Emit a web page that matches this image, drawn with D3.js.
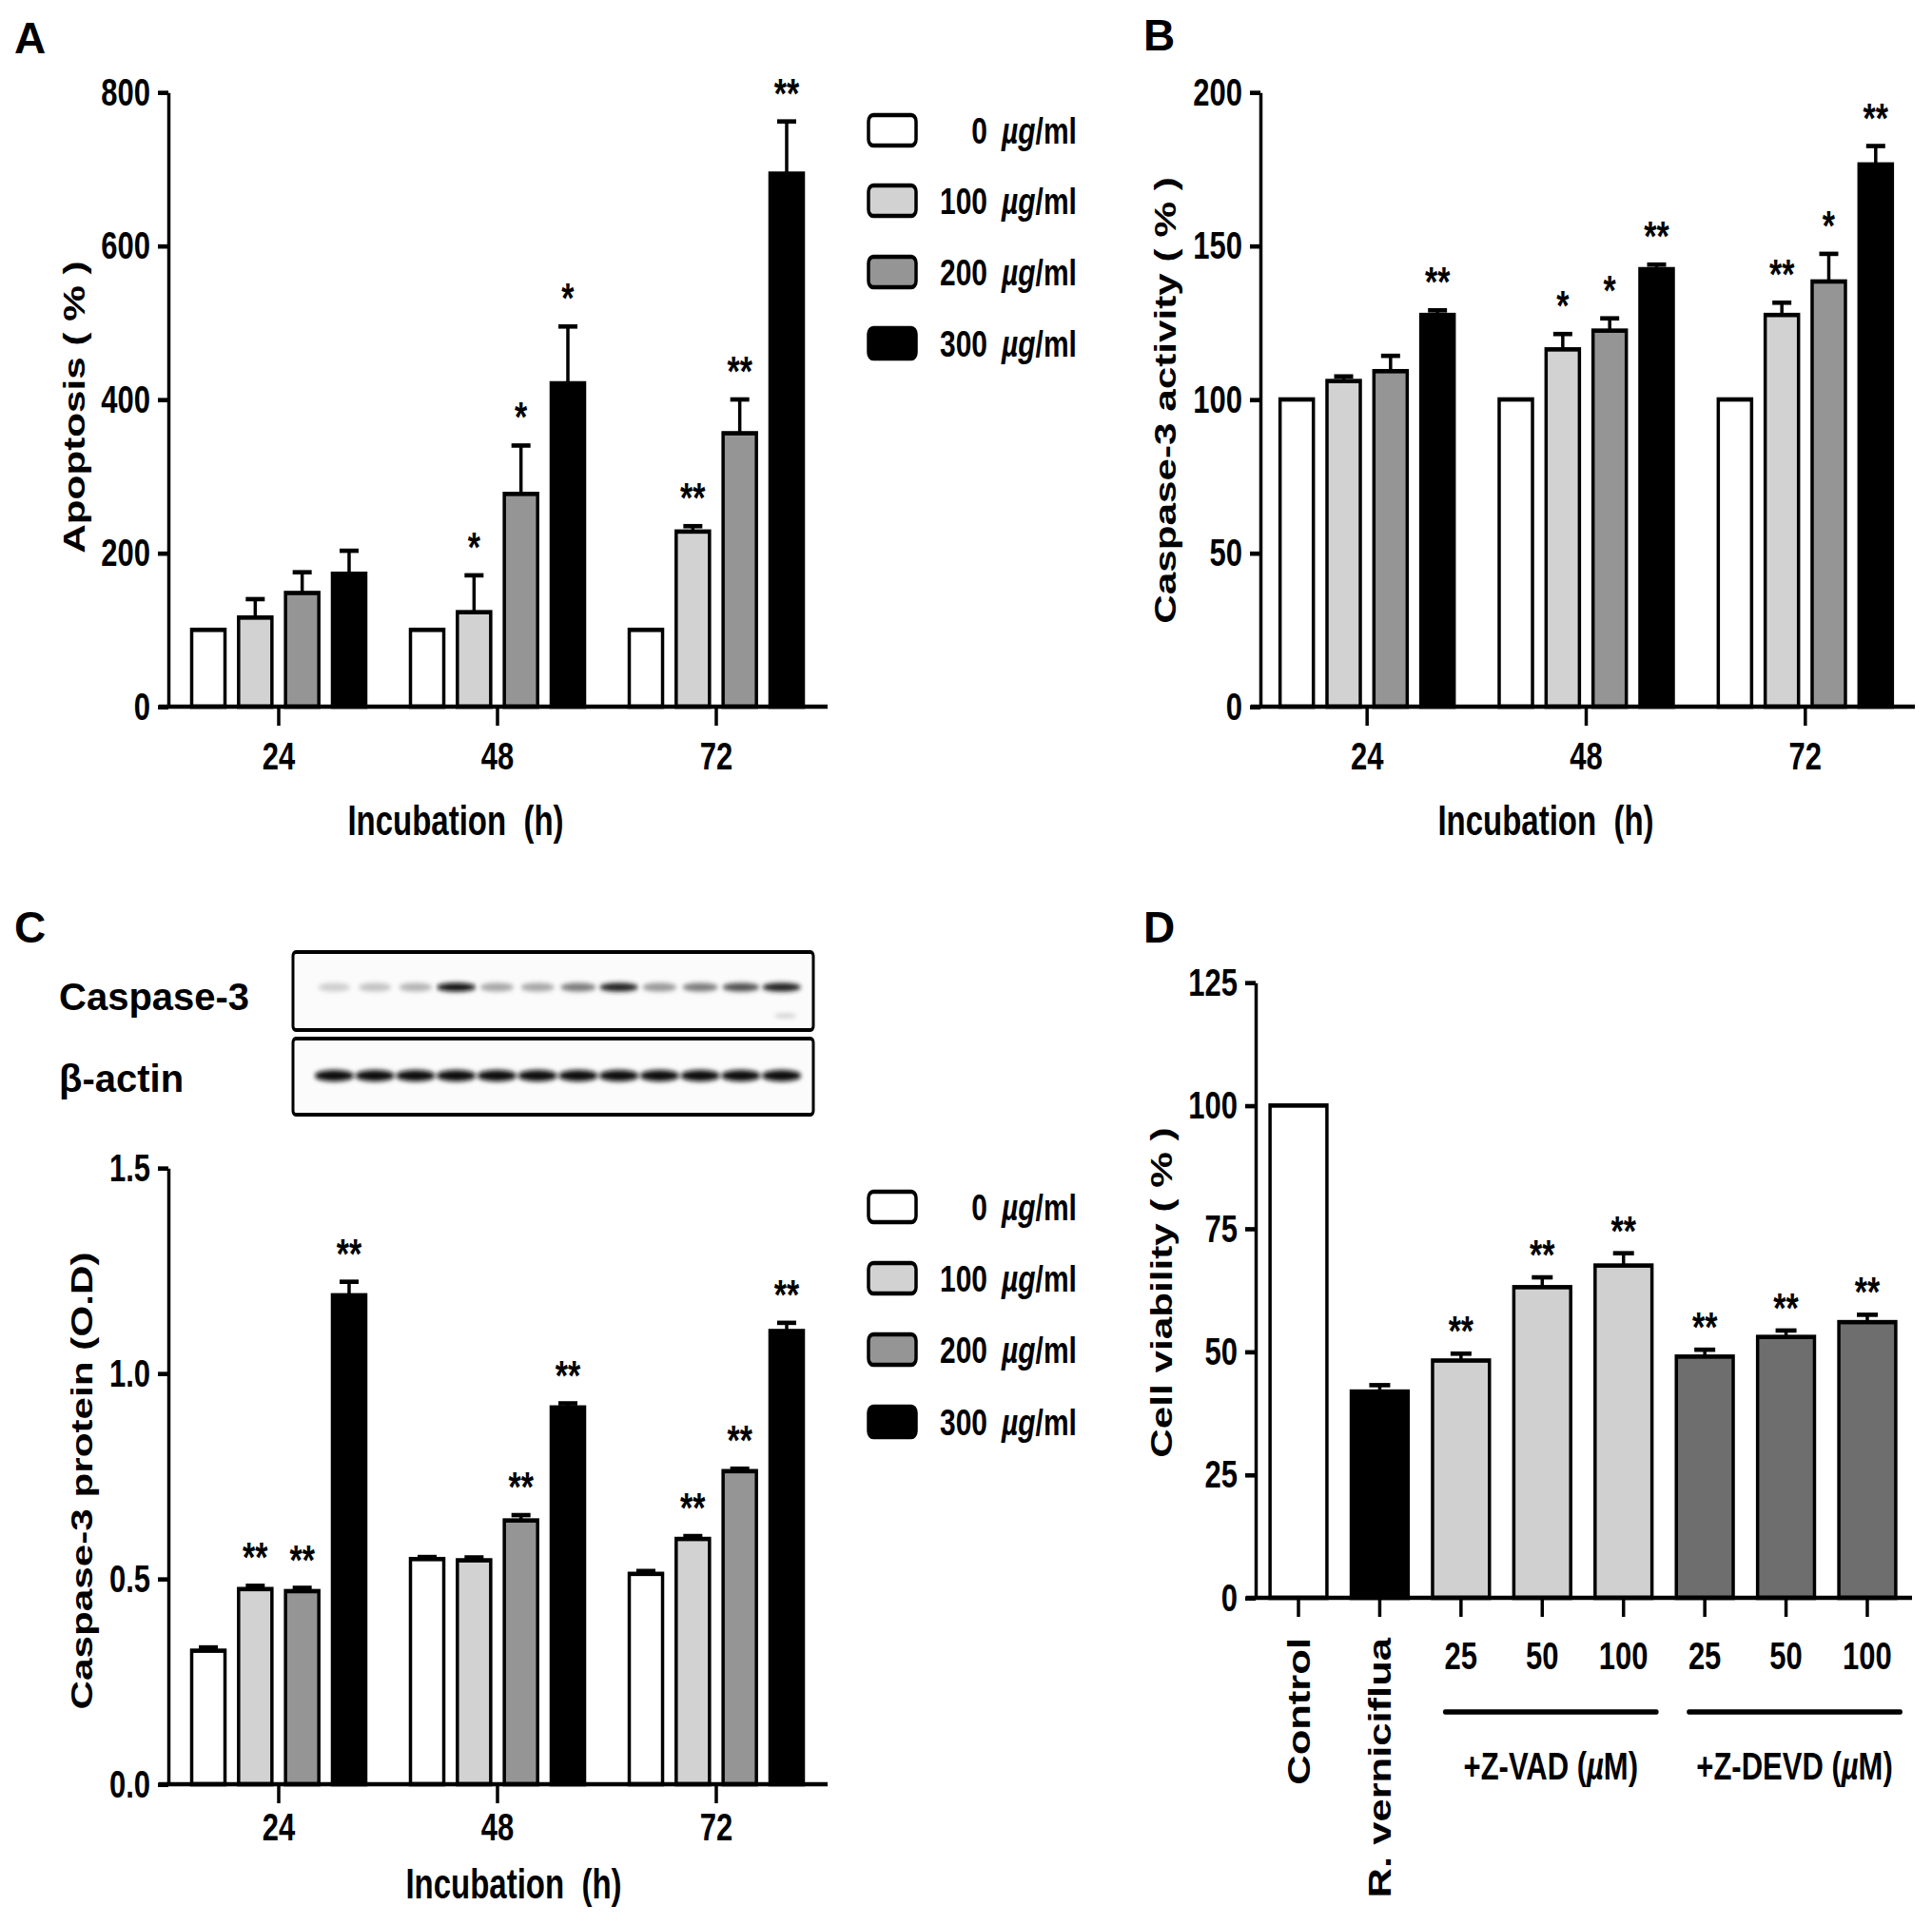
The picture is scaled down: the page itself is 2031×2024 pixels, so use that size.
<!DOCTYPE html>
<html>
<head>
<meta charset="utf-8">
<script src="https://cdn.jsdelivr.net/npm/d3@7"></script>
<style>
  html, body { margin: 0; padding: 0; background: #fff; }
  svg text { font-family: "Liberation Sans", Arial, Helvetica, sans-serif; font-weight: bold; fill: #000; }
</style>
</head>
<body>
<svg id="fig" width="2031" height="2024"></svg>
<script>
// ---- data ----
const hours = ["24", "48", "72"];
const doses = ["0", "100", "200", "300"];
const doseColors = ["#ffffff", "#d2d2d2", "#959595", "#000000"];

// rows = dose, columns = hour
const apoptosisMean = [[100, 100, 100], [116, 123, 228], [148, 277, 356], [173, 421, 694]];
const apoptosisSem = [[0, 0, 0], [24, 48, 7], [27, 63, 44], [30, 74, 68]];
const apoptosisSig = [["", "", ""], ["", "*", "**"], ["", "*", "**"], ["", "*", "**"]];

const caspActMean = [[100, 100, 100], [106, 116.3, 127.5], [109.2, 122.4, 138.4], [127.5, 142.4, 176.5]];
const caspActSem = [[0, 0, 0], [1.5, 5, 4], [5, 4, 9], [1.5, 1.5, 6]];
const caspActSig = [["", "", ""], ["", "*", "**"], ["", "*", "*"], ["**", "**", "**"]];

const caspProtMean = [[0.325, 0.548, 0.512], [0.475, 0.545, 0.597], [0.47, 0.642, 0.762], [1.19, 0.917, 1.103]];
const caspProtSem = [[0.008, 0.005, 0.007], [0.008, 0.007, 0.007], [0.008, 0.013, 0.006], [0.033, 0.01, 0.02]];
const caspProtSig = [["", "", ""], ["**", "", "**"], ["**", "**", "**"], ["**", "**", "**"]];

const blotCasp3 = [0.3, 0.35, 0.4, 0.95, 0.45, 0.45, 0.6, 0.9, 0.5, 0.6, 0.75, 0.9];
const blotActin = [0.95, 0.95, 0.95, 0.95, 0.95, 0.95, 0.95, 0.97, 0.95, 0.95, 0.95, 0.95];

const viabIds = ["ctl", "rv", "vad25", "vad50", "vad100", "devd25", "devd50", "devd100"];
const viabLabels = ["Control", "R. verniciflua", "25", "50", "100", "25", "50", "100"];
const viabMean = [100, 41.9, 48.2, 63.1, 67.5, 49.0, 53.0, 56.0];
const viabSem = [0, 1.3, 1.4, 2.0, 2.5, 1.4, 1.3, 1.5];
const viabSig = ["", "", "**", "**", "**", "**", "**", "**"];
const viabColors = ["#ffffff", "#000000", "#d0d0d0", "#d0d0d0", "#d0d0d0", "#6e6e6e", "#6e6e6e", "#6e6e6e"];
const inhibitors = [{ name: "+Z-VAD (", ids: ["vad25", "vad100"] }, { name: "+Z-DEVD (", ids: ["devd25", "devd100"] }];

// ---- layout ----
// the original figure is stretched vertically; draw in a squeezed space and scale it back
const SY = 1.32;
const sy = (v) => v / SY;

const svg = d3.select("#fig");
const flat = svg.append("g");
const plot = svg.append("g").attr("transform", `scale(1,${SY})`);

const AXIS_W = 3.5;

function groupedPanel(p) {
  const y = d3.scaleLinear().domain([0, p.max]).range([sy(p.zeroY), sy(p.topY)]);
  const x0 = d3.scaleBand().domain(hours).range(p.groupRange);
  const x1 = d3.scaleBand().domain(doses).range([-91.5, 91.5]).paddingInner(0.29);
  const g = plot.append("g");

  const rows = [];
  doses.forEach((d, i) => hours.forEach((h, j) => {
    rows.push({ dose: d, hour: h, i, mean: p.mean[i][j], sem: p.sem[i][j], sig: p.sig[i][j] });
  }));
  const cx = (d) => x0(d.hour) + x0.bandwidth() / 2 + x1(d.dose) + x1.bandwidth() / 2;

  g.append("g").selectAll("rect").data(rows).join("rect")
    .attr("x", (d) => cx(d) - x1.bandwidth() / 2)
    .attr("width", x1.bandwidth())
    .attr("y", (d) => y(d.mean))
    .attr("height", (d) => y(0) - y(d.mean))
    .attr("fill", (d) => doseColors[d.i])
    .attr("stroke", "#000")
    .attr("stroke-width", 3.5);

  const err = g.append("g").attr("stroke", "#000").attr("stroke-width", 3.5)
    .selectAll("g").data(rows.filter((d) => d.sem > 0)).join("g");
  err.append("line")
    .attr("x1", cx).attr("x2", cx)
    .attr("y1", (d) => y(d.mean)).attr("y2", (d) => y(d.mean + d.sem));
  err.append("line")
    .attr("x1", (d) => cx(d) - 10).attr("x2", (d) => cx(d) + 10)
    .attr("y1", (d) => y(d.mean + d.sem)).attr("y2", (d) => y(d.mean + d.sem));

  g.append("g").selectAll("text").data(rows.filter((d) => d.sig)).join("text")
    .attr("x", cx)
    .attr("y", (d) => y(d.mean + d.sem) - sy(14))
    .attr("text-anchor", "middle")
    .attr("font-size", 34)
    .text((d) => d.sig);

  // axes
  const ya = g.append("g").attr("transform", `translate(${p.axisX},0)`)
    .call(d3.axisLeft(y).tickValues(p.ticks).tickFormat(p.fmt).tickSize(11).tickPadding(8).tickSizeOuter(0));
  ya.attr("font-size", 31);
  ya.selectAll("path, line").attr("stroke-width", AXIS_W);

  const xa = g.append("g").attr("transform", `translate(0,${y(0)})`)
    .call(d3.axisBottom(x0).tickSize(sy(20)).tickSizeOuter(0));
  xa.select(".domain").remove();
  xa.attr("font-size", 31);
  xa.selectAll("line").attr("stroke-width", AXIS_W);
  xa.selectAll("text").attr("y", sy(p.tickLabelY) - y(0)).attr("dy", "0.35em");
  g.append("line")
    .attr("x1", p.axisX - 10).attr("x2", p.xEnd)
    .attr("y1", y(0)).attr("y2", y(0))
    .attr("stroke", "#000").attr("stroke-width", AXIS_W);

  g.append("text")
    .attr("transform", `translate(${p.yLabelX},${sy(p.yLabelY)}) rotate(-90)`)
    .attr("text-anchor", "middle").attr("dy", "0.35em")
    .attr("font-size", 32)
    .text(p.yLabel);

  g.append("text")
    .attr("x", p.xTitleX).attr("y", sy(p.xTitleY)).attr("dy", "0.35em")
    .attr("text-anchor", "middle").attr("font-size", 33)
    .style("white-space", "pre")
    .text("Incubation  (h)");
}

function legend(rowYs) {
  const g = plot.append("g");
  const items = g.selectAll("g").data(doses).join("g")
    .attr("transform", (d, i) => `translate(0,${sy(rowYs[i])})`);
  items.append("rect")
    .attr("x", 913).attr("y", sy(-16)).attr("width", 50).attr("height", sy(32))
    .attr("rx", 5)
    .attr("fill", (d, i) => doseColors[i])
    .attr("stroke", "#000").attr("stroke-width", 3.5);
  items.append("text")
    .attr("x", 1038).attr("dy", "0.35em").attr("text-anchor", "end")
    .attr("font-size", 30).text((d) => d);
  const unit = items.append("text")
    .attr("x", 1053).attr("dy", "0.35em").attr("font-size", 30);
  unit.append("tspan").attr("font-style", "italic").text("\u00b5g");
  unit.append("tspan").text("/ml");
}

// ---- panel letters ----
flat.selectAll("text.panel").data([["A", 15, 56], ["B", 1202, 53], ["C", 15, 991], ["D", 1202, 991]])
  .join("text").attr("class", "panel")
  .attr("x", (d) => d[1]).attr("y", (d) => d[2])
  .attr("font-size", 46).text((d) => d[0]);

// ---- A ----
groupedPanel({
  max: 800, zeroY: 743, topY: 97, groupRange: [178, 868], axisX: 177, xEnd: 870,
  ticks: [0, 200, 400, 600, 800], fmt: d3.format("d"),
  mean: apoptosisMean, sem: apoptosisSem, sig: apoptosisSig,
  tickLabelY: 795, yLabel: "Apoptosis ( % )", yLabelX: 78, yLabelY: 428,
  xTitleX: 479, xTitleY: 863
});
legend([137, 211, 286, 361]);

// ---- B ----
groupedPanel({
  max: 200, zeroY: 743, topY: 97, groupRange: [1322, 2013], axisX: 1325, xEnd: 2013,
  ticks: [0, 50, 100, 150, 200], fmt: d3.format("d"),
  mean: caspActMean, sem: caspActSem, sig: caspActSig,
  tickLabelY: 795, yLabel: "Caspase-3 activity ( % )", yLabelX: 1225, yLabelY: 421,
  xTitleX: 1625, xTitleY: 863
});

// ---- C: blot ----
const lanes = d3.scaleBand().domain(d3.range(12)).range([330, 843]);
const defs = svg.append("defs");
defs.append("filter").attr("id", "blur").attr("x", "-50%").attr("y", "-100%").attr("width", "200%").attr("height", "300%")
  .append("feGaussianBlur").attr("stdDeviation", 2.2);

const blot = plot.append("g");
[[1001, 1083, blotCasp3, 1038, 4.5], [1092, 1172, blotActin, 1131, 6]].forEach(([top, bottom, bands, bandY, ry]) => {
  blot.append("rect")
    .attr("x", 308).attr("y", sy(top)).attr("width", 547).attr("height", sy(bottom - top))
    .attr("rx", 3).attr("fill", "#fbfbfb").attr("stroke", "#000").attr("stroke-width", 3);
  blot.append("g").attr("filter", "url(#blur)")
    .selectAll("ellipse").data(bands).join("ellipse")
    .attr("cx", (d, i) => lanes(i) + lanes.bandwidth() / 2)
    .attr("cy", sy(bandY))
    .attr("rx", (d) => 15 + 6 * d)
    .attr("ry", sy(ry))
    .attr("fill", (d) => d3.interpolateGreys(d));
});
blot.append("ellipse")
  .attr("cx", lanes(11) + lanes.bandwidth() / 2 + 4).attr("cy", sy(1068))
  .attr("rx", 12).attr("ry", sy(2)).attr("fill", "#c8c8c8").attr("filter", "url(#blur)");

flat.append("text").attr("x", 62).attr("y", 1048).attr("dy", "0.35em").attr("font-size", 40).text("Caspase-3");
flat.append("text").attr("x", 62).attr("y", 1134).attr("dy", "0.35em").attr("font-size", 40).text("\u03b2-actin");

// ---- C: chart ----
groupedPanel({
  max: 1.5, zeroY: 1876, topY: 1228, groupRange: [178, 868], axisX: 177, xEnd: 870,
  ticks: [0, 0.5, 1.0, 1.5], fmt: d3.format(".1f"),
  mean: caspProtMean, sem: caspProtSem, sig: caspProtSig,
  tickLabelY: 1921, yLabel: "Caspase-3 protein (O.D)", yLabelX: 86, yLabelY: 1557,
  xTitleX: 540, xTitleY: 1981
});
legend([1269, 1344, 1419, 1495]);

// ---- D ----
(function () {
  const y = d3.scaleLinear().domain([0, 125]).range([sy(1680), sy(1033)]);
  const x = d3.scaleBand().domain(viabIds).range([1322.3, 2005.7]).paddingInner(0.3).paddingOuter(0.15);
  const g = plot.append("g");
  const rows = viabIds.map((id, i) => ({ id, i, mean: viabMean[i], sem: viabSem[i], sig: viabSig[i] }));
  const cx = (d) => x(d.id) + x.bandwidth() / 2;

  g.append("g").selectAll("rect").data(rows).join("rect")
    .attr("x", (d) => x(d.id)).attr("width", x.bandwidth())
    .attr("y", (d) => y(d.mean)).attr("height", (d) => y(0) - y(d.mean))
    .attr("fill", (d) => viabColors[d.i])
    .attr("stroke", "#000").attr("stroke-width", 3.5);

  const err = g.append("g").attr("stroke", "#000").attr("stroke-width", 3.5)
    .selectAll("g").data(rows.filter((d) => d.sem > 0)).join("g");
  err.append("line").attr("x1", cx).attr("x2", cx)
    .attr("y1", (d) => y(d.mean)).attr("y2", (d) => y(d.mean + d.sem));
  err.append("line").attr("x1", (d) => cx(d) - 11).attr("x2", (d) => cx(d) + 11)
    .attr("y1", (d) => y(d.mean + d.sem)).attr("y2", (d) => y(d.mean + d.sem));

  g.append("g").selectAll("text").data(rows.filter((d) => d.sig)).join("text")
    .attr("x", cx).attr("y", (d) => y(d.mean + d.sem) - sy(8))
    .attr("text-anchor", "middle").attr("font-size", 34).text((d) => d.sig);

  const ya = g.append("g").attr("transform", "translate(1320,0)")
    .call(d3.axisLeft(y).tickValues([0, 25, 50, 75, 100, 125]).tickSize(11).tickPadding(8).tickSizeOuter(0));
  ya.attr("font-size", 31);
  ya.selectAll("path, line").attr("stroke-width", AXIS_W);

  const xa = g.append("g").attr("transform", `translate(0,${y(0)})`)
    .call(d3.axisBottom(x).tickSize(sy(20)).tickSizeOuter(0).tickFormat(""));
  xa.select(".domain").remove();
  xa.selectAll("line").attr("stroke-width", AXIS_W);
  g.append("line").attr("x1", 1310).attr("x2", 2010).attr("y1", y(0)).attr("y2", y(0))
    .attr("stroke", "#000").attr("stroke-width", AXIS_W);

  // category labels: first two rotated, doses horizontal
  g.append("g").selectAll("text").data(rows.slice(0, 2)).join("text")
    .attr("transform", (d) => `translate(${cx(d)},${sy(1722)}) rotate(-90)`)
    .attr("text-anchor", "end").attr("dy", "0.35em").attr("font-size", 33)
    .text((d) => viabLabels[d.i]);
  g.append("g").selectAll("text").data(rows.slice(2)).join("text")
    .attr("x", cx).attr("y", sy(1741)).attr("dy", "0.35em")
    .attr("text-anchor", "middle").attr("font-size", 31)
    .text((d) => viabLabels[d.i]);

  inhibitors.forEach((inh) => {
    const a = x(inh.ids[0]) + x.bandwidth() / 2 - 17;
    const b = x(inh.ids[1]) + x.bandwidth() / 2 + 35;
    g.append("line").attr("x1", a).attr("x2", b).attr("y1", sy(1800)).attr("y2", sy(1800))
      .attr("stroke", "#000").attr("stroke-width", 4).attr("stroke-linecap", "round");
    const t = g.append("text").attr("x", (a + b) / 2).attr("y", sy(1857)).attr("dy", "0.35em")
      .attr("text-anchor", "middle").attr("font-size", 31);
    t.append("tspan").text(inh.name);
    t.append("tspan").attr("font-style", "italic").text("\u00b5");
    t.append("tspan").text("M)");
  });

  g.append("text")
    .attr("transform", `translate(1221,${sy(1359)}) rotate(-90)`)
    .attr("text-anchor", "middle").attr("dy", "0.35em").attr("font-size", 32)
    .text("Cell viability ( % )");
})();
</script>
</body>
</html>
